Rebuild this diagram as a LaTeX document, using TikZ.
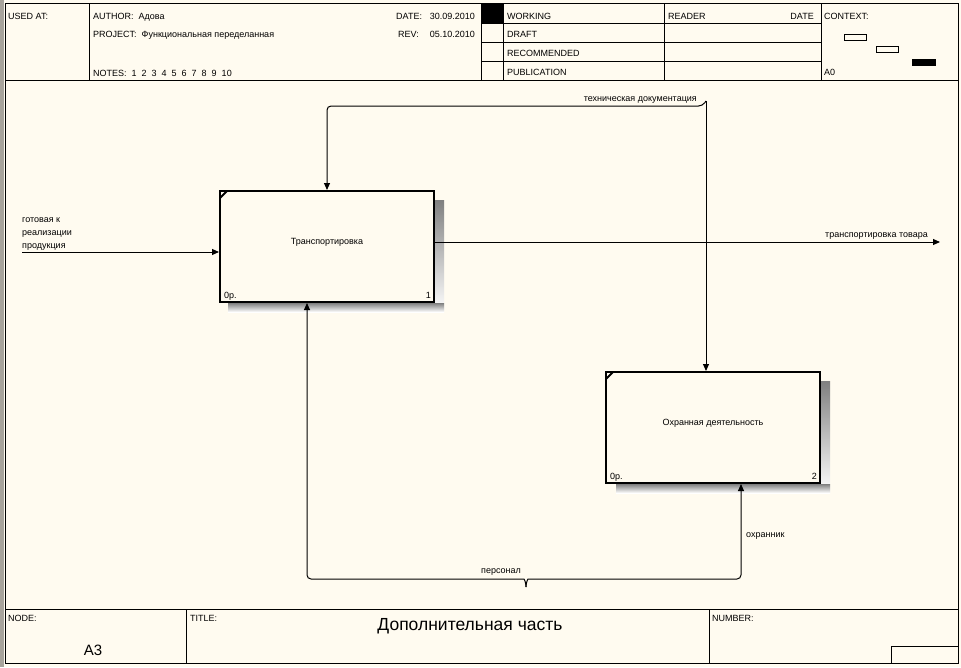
\documentclass[tikz,border=0pt]{standalone}
\usepackage{fontspec}
\setmainfont{Liberation Sans}
\usetikzlibrary{arrows.meta,calc}
\definecolor{bg}{HTML}{FFFBF0}
\definecolor{strip}{HTML}{A8A49C}
\definecolor{shade}{HTML}{8C8C8C}
\begin{document}
\begin{tikzpicture}[x=1pt,y=-1pt,
  txt/.style={font=\fontsize{9}{13}\selectfont, inner sep=0pt},
  frameline/.style={line width=1pt, black},
  actbox/.style={draw=black, line width=2pt, fill=bg, minimum width=214pt, minimum height=111pt, inner sep=0pt},
  arr/.style={line width=1pt, -{Triangle[length=7pt,width=6pt]}},
  plain/.style={line width=1pt}
]
\useasboundingbox (0,0) rectangle (961,667);
\fill[bg] (0,0) rectangle (961,667);
\fill[strip] (0,0) rectangle (4,667);

% ---------- frame ----------
\draw[frameline] (5,3.5) rectangle (958,663);
\draw[frameline] (5,80.5) -- (958,80.5);
\draw[frameline] (89,3.5) -- (89,80.5);
\draw[frameline] (481,3.5) -- (481,80.5);
\draw[frameline] (503,3.5) -- (503,80.5);
\draw[frameline] (664,3.5) -- (664,80.5);
\draw[frameline] (821.5,3.5) -- (821.5,80.5);
\draw[frameline] (481,23.5) -- (821.5,23.5);
\draw[frameline] (481,42.5) -- (821.5,42.5);
\draw[frameline] (481,61.5) -- (821.5,61.5);
\fill[black] (481,3.5) rectangle (503,23.5);
% context thumbnails
\draw[line width=1pt, fill=bg] (844.5,34.5) rectangle (866.5,40.5);
\draw[line width=1pt, fill=bg] (876.5,46.5) rectangle (898.5,52.5);
\fill[black] (912,58.5) rectangle (936,66);
% footer
\draw[frameline] (5,609) -- (958,609);
\draw[frameline] (186,609) -- (186,663);
\draw[frameline] (709,609) -- (709,663);
\draw[frameline] (891,663) -- (891,646) -- (958,646);

% ---------- header texts ----------
\node[txt, anchor=base west] (usedat) at (8,19) {USED AT:};
\node[txt, anchor=base west] (author) at (93,19) {AUTHOR:\ \ Адова};
\node[txt, anchor=base west] (project) at (93,37) {PROJECT:\ \ Функциональная переделанная};
\node[txt, anchor=base west] (notes) at (93,76) {NOTES:\ \ 1\ \ 2\ \ 3\ \ 4\ \ 5\ \ 6\ \ 7\ \ 8\ \ 9\ \ 10};
\node[txt, anchor=base west] (datel) at (396,19) {DATE:};
\node[txt, anchor=base east] (datev) at (475,19) {30.09.2010};
\node[txt, anchor=base west] (revl) at (398,37) {REV:};
\node[txt, anchor=base east] (revv) at (475,37) {05.10.2010};
\node[txt, anchor=base west] (working) at (507,19) {WORKING};
\node[txt, anchor=base west] (draft) at (507,37.5) {DRAFT};
\node[txt, anchor=base west] (recom) at (507,56.5) {RECOMMENDED};
\node[txt, anchor=base west] (publ) at (507,75.5) {PUBLICATION};
\node[txt, anchor=base west] (reader) at (668,19) {READER};
\node[txt, anchor=base east] (rdate) at (814,19) {DATE};
\node[txt, anchor=base west] (context) at (824,19) {CONTEXT:};
\node[txt, anchor=base west] (azero) at (824,75.5) {A0};

% ---------- footer texts ----------
\node[txt, anchor=base west] (nodel) at (8,621) {NODE:};
\node[txt, anchor=base west] (titlel) at (190,621) {TITLE:};
\node[txt, anchor=base west] (numberl) at (712,621) {NUMBER:};
\node[inner sep=0pt, anchor=base, font=\fontsize{17.5}{20}\selectfont] (title) at (470,630) {Дополнительная часть};
\node[inner sep=0pt, anchor=base, font=\fontsize{15}{18}\selectfont] (nodeid) at (93,655) {А3};

% ---------- shadows ----------
\fill[shade] (435,200) rectangle (444,312);
\fill[shade] (228,303) rectangle (444,312);
\fill[shade] (821,381) rectangle (830,493);
\fill[shade] (616,484) rectangle (830,493);

% ---------- activity boxes ----------
\node[actbox] (b1) at (327,246.5) {};
\node[actbox] (b2) at (713,427.5) {};
\draw[line width=2pt] ($(b1.north west)+(1,8)$) -- ($(b1.north west)+(8,1)$);
\draw[line width=2pt] ($(b2.north west)+(1,8)$) -- ($(b2.north west)+(8,1)$);
\node[txt, anchor=base] (b1name) at (327,244) {Транспортировка};
\node[txt, anchor=base west] (b1op) at (224,298.5) {0р.};
\node[txt, anchor=base east] (b1num) at (431,298.5) {1};
\node[txt, anchor=base] (b2name) at (713,425.5) {Охранная деятельность};
\node[txt, anchor=base west] (b2op) at (610,479.5) {0р.};
\node[txt, anchor=base east] (b2num) at (817,479.5) {2};

% ---------- connectors ----------
% input
\coordinate (insrc) at (22,252);
\draw[arr] (insrc) -- (insrc -| b1.west);
\node[txt, anchor=base west, align=left] (inlbl) at (22,248.5) {готовая к\\реализации\\продукция};
% output
\coordinate (outdst) at (940,242);
\draw[arr] (outdst -| b1.east) -- (outdst);
\node[txt, anchor=base east] (outlbl) at (928,237) {транспортировка товара};
% control
\coordinate (csrc) at (706,101);
\coordinate (cturn) at (327,106);
\draw[arr] (csrc) -- (csrc |- b2.north);
\draw[arr, rounded corners=4pt] (csrc) -- (702.5,106) -- (cturn) -- (b1.north);
\node[txt, anchor=base east] (clbl) at (697,101) {техническая документация};
% mechanism
\coordinate (msrc) at (526,587);
\coordinate (mleft) at (307,579);
\coordinate (mright) at (741,579);
\draw[arr, rounded corners=4pt] (msrc) .. controls (526,582) and (524,579) .. (520,579) -- (mleft) -- (b1.south -| mleft);
\draw[arr, rounded corners=4pt] (msrc) .. controls (526,582) and (528,579) .. (532,579) -- (mright) -- (b2.south -| mright);
\node[txt, anchor=base west] (mlbl) at (481,573) {персонал};
\node[txt, anchor=base west] (m2lbl) at (746,537) {охранник};
\end{tikzpicture}
\end{document}
